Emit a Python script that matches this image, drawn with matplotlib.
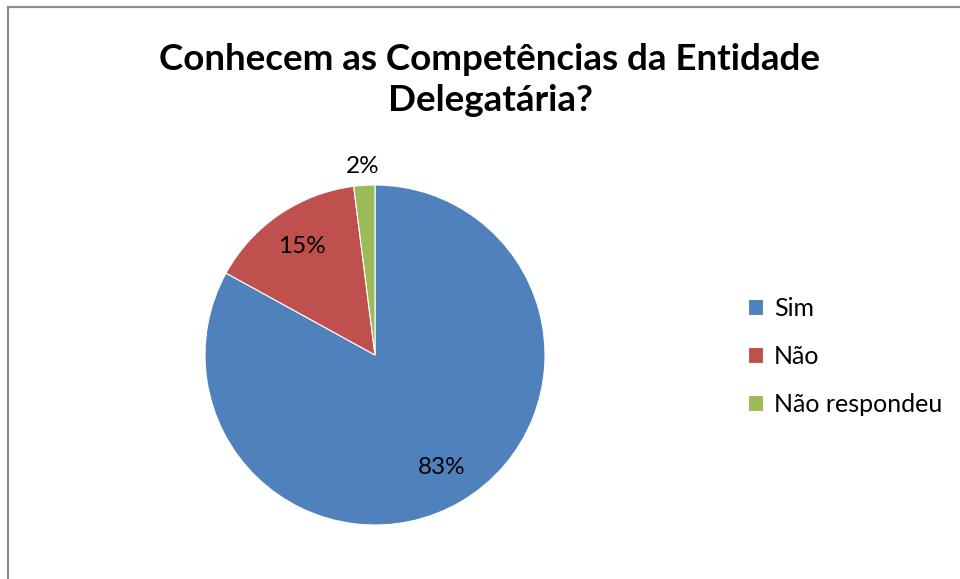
import matplotlib.pyplot as plt
from matplotlib.patches import Rectangle

# Dados
categorias = ['Sim', 'Não', 'Não respondeu']
percentuais = [83, 15, 2]
cores = ['#4F81BD', '#C0504D', '#9BBB59']

plt.rcParams['font.family'] = ['Lato', 'DejaVu Sans']

W, H = 960, 579
fig = plt.figure(figsize=(W / 100, H / 100), dpi=100)

# moldura cinza (lados direito e inferior cortados)
fig.patches.append(Rectangle((8 / W, -0.05), 1.1, 1 - 7 / H + 0.05,
                             transform=fig.transFigure, fill=False,
                             edgecolor='#8c8c8c', linewidth=1.6))

ax = fig.add_axes([205 / W, (H - 525) / H, 340 / W, 340 / H])
wedges, texts, autotexts = ax.pie(
    percentuais, colors=cores, startangle=90, counterclock=False,
    autopct='%1.0f%%', pctdistance=0.77,
    wedgeprops=dict(edgecolor='white', linewidth=0.8),
    textprops=dict(fontsize=17.5, color='black'))
# rótulo de 2% fica fora da pizza
autotexts[2].set_position((-0.075, 1.11))
ax.set_xlim(-1, 1)
ax.set_ylim(-1, 1)
ax.set_aspect('equal')

fig.text(490 / W, 1 - 80 / H, 'Conhecem as Competências da Entidade\nDelegatária?',
         ha='center', va='center', fontsize=26.5, fontweight='bold',
         linespacing=1.32)

ax.legend(wedges, categorias, loc='center left',
          bbox_to_anchor=(725 / W, 1 - 356 / H), bbox_transform=fig.transFigure,
          frameon=False, fontsize=18, handlelength=0.62, handleheight=0.62,
          handletextpad=0.45, labelspacing=1.0)

fig.savefig('out.png', dpi=100)
